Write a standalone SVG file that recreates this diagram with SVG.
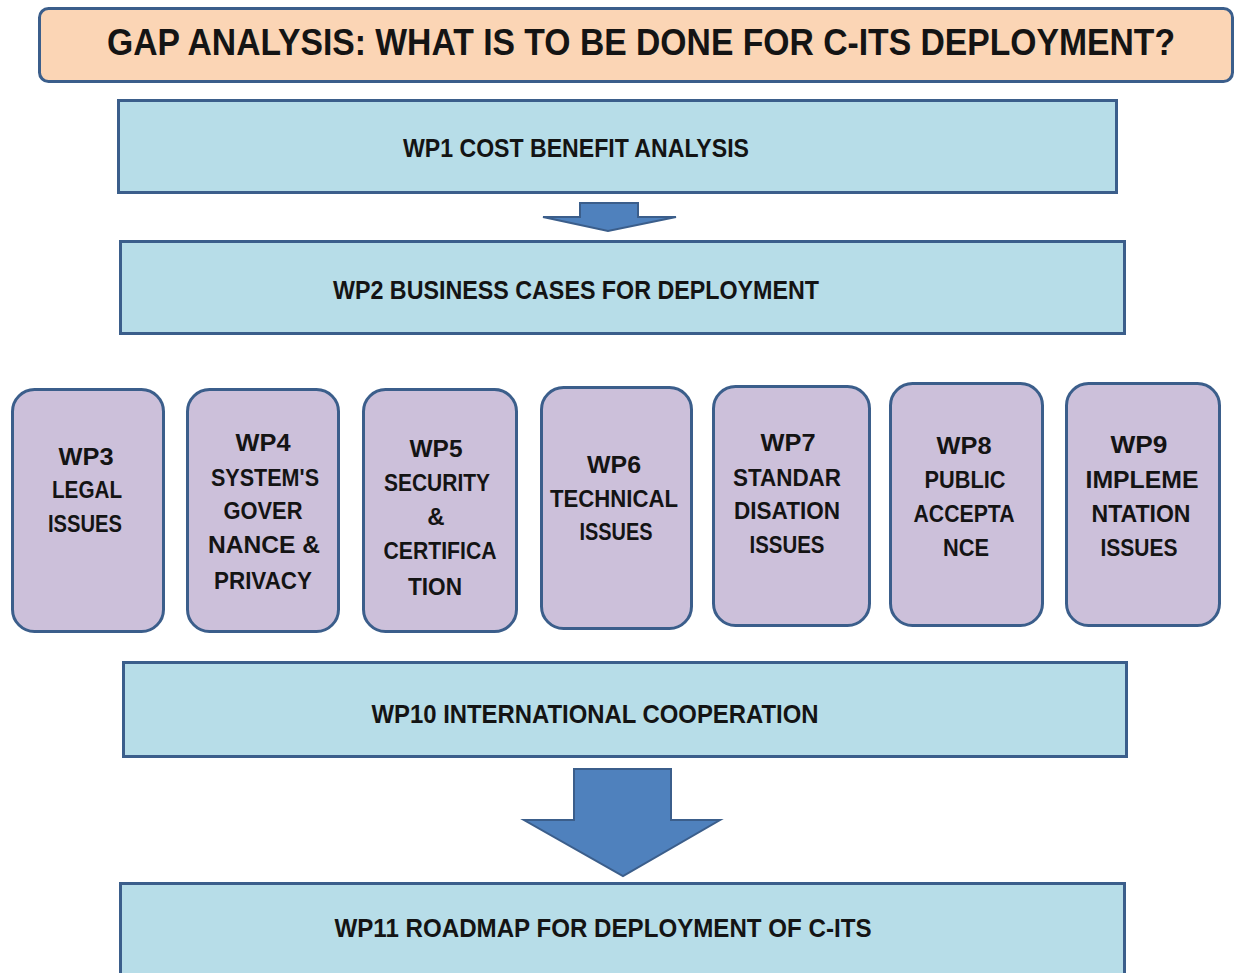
<svg xmlns="http://www.w3.org/2000/svg" width="1236" height="973" viewBox="0 0 1236 973">
<style>
.title{fill:#FBD5B5;stroke:#3B5E8B;stroke-width:3}
.wide{fill:#B7DDE8;stroke:#3B5E8B;stroke-width:3}
.wp{fill:#CCC0DA;stroke:#3B5E8B;stroke-width:3}
.arrow{fill:#4F81BD;stroke:#3B5E8B;stroke-width:2;stroke-linejoin:miter}
text{font-family:"Liberation Sans",Arial,sans-serif;font-weight:bold;fill:#141414;text-anchor:middle}
.t0{font-size:33px}
.t1{font-size:25px}
.t2{font-size:24px}
</style>
<g id="title">
<rect class="title" x="39.5" y="8.5" width="1193" height="73" rx="9"/>
<text class="t0" transform="translate(641,55) scale(1,1.12)" x="0" y="0" textLength="1068" lengthAdjust="spacingAndGlyphs">GAP ANALYSIS: WHAT IS TO BE DONE FOR C-ITS DEPLOYMENT?</text>
</g>
<g id="wp1">
<rect class="wide" x="118.5" y="100.5" width="998" height="92"/>
<text class="t1" x="576" y="157" textLength="346" lengthAdjust="spacingAndGlyphs">WP1 COST BENEFIT ANALYSIS</text>
</g>
<g id="wp2">
<rect class="wide" x="120.5" y="241.5" width="1004" height="92"/>
<text class="t1" x="576" y="299" textLength="486" lengthAdjust="spacingAndGlyphs">WP2 BUSINESS CASES FOR DEPLOYMENT</text>
</g>
<g id="wp3">
<rect class="wp" x="12.5" y="389.5" width="151" height="242" rx="22"/>
<text class="t2" x="86" y="465" textLength="55" lengthAdjust="spacingAndGlyphs">WP3</text>
<text class="t2" x="87" y="498" textLength="70" lengthAdjust="spacingAndGlyphs">LEGAL</text>
<text class="t2" x="85" y="532" textLength="74" lengthAdjust="spacingAndGlyphs">ISSUES</text>
</g>
<g id="wp4">
<rect class="wp" x="187.5" y="389.5" width="151" height="242" rx="22"/>
<text class="t2" x="263" y="451" textLength="55" lengthAdjust="spacingAndGlyphs">WP4</text>
<text class="t2" x="265" y="486" textLength="108" lengthAdjust="spacingAndGlyphs">SYSTEM'S</text>
<text class="t2" x="263" y="519" textLength="79" lengthAdjust="spacingAndGlyphs">GOVER</text>
<text class="t2" x="264" y="553" textLength="112" lengthAdjust="spacingAndGlyphs">NANCE &amp;</text>
<text class="t2" x="263" y="589" textLength="98" lengthAdjust="spacingAndGlyphs">PRIVACY</text>
</g>
<g id="wp5">
<rect class="wp" x="363.5" y="389.5" width="153" height="242" rx="22"/>
<text class="t2" x="436" y="457" textLength="53" lengthAdjust="spacingAndGlyphs">WP5</text>
<text class="t2" x="437" y="491" textLength="106" lengthAdjust="spacingAndGlyphs">SECURITY</text>
<text class="t2" x="436" y="525">&amp;</text>
<text class="t2" x="440" y="559" textLength="113" lengthAdjust="spacingAndGlyphs">CERTIFICA</text>
<text class="t2" x="435" y="595" textLength="54" lengthAdjust="spacingAndGlyphs">TION</text>
</g>
<g id="wp6">
<rect class="wp" x="541.5" y="387.5" width="150" height="241" rx="22"/>
<text class="t2" x="614" y="473" textLength="54" lengthAdjust="spacingAndGlyphs">WP6</text>
<text class="t2" x="614" y="507" textLength="128" lengthAdjust="spacingAndGlyphs">TECHNICAL</text>
<text class="t2" x="616" y="540" textLength="73" lengthAdjust="spacingAndGlyphs">ISSUES</text>
</g>
<g id="wp7">
<rect class="wp" x="713.5" y="386.5" width="156" height="239" rx="22"/>
<text class="t2" x="788" y="451" textLength="55" lengthAdjust="spacingAndGlyphs">WP7</text>
<text class="t2" x="787" y="486" textLength="108" lengthAdjust="spacingAndGlyphs">STANDAR</text>
<text class="t2" x="787" y="519" textLength="106" lengthAdjust="spacingAndGlyphs">DISATION</text>
<text class="t2" x="787" y="553" textLength="75" lengthAdjust="spacingAndGlyphs">ISSUES</text>
</g>
<g id="wp8">
<rect class="wp" x="890.5" y="383.5" width="152" height="242" rx="22"/>
<text class="t2" x="964" y="454" textLength="55" lengthAdjust="spacingAndGlyphs">WP8</text>
<text class="t2" x="965" y="488" textLength="81" lengthAdjust="spacingAndGlyphs">PUBLIC</text>
<text class="t2" x="964" y="522" textLength="101" lengthAdjust="spacingAndGlyphs">ACCEPTA</text>
<text class="t2" x="966" y="556" textLength="46" lengthAdjust="spacingAndGlyphs">NCE</text>
</g>
<g id="wp9">
<rect class="wp" x="1066.5" y="383.5" width="153" height="242" rx="22"/>
<text class="t2" x="1139" y="453" textLength="57" lengthAdjust="spacingAndGlyphs">WP9</text>
<text class="t2" x="1142" y="488" textLength="113" lengthAdjust="spacingAndGlyphs">IMPLEME</text>
<text class="t2" x="1141" y="522" textLength="99" lengthAdjust="spacingAndGlyphs">NTATION</text>
<text class="t2" x="1139" y="556" textLength="77" lengthAdjust="spacingAndGlyphs">ISSUES</text>
</g>
<g id="wp10">
<rect class="wide" x="123.5" y="662.5" width="1003" height="94"/>
<text class="t1" x="595" y="723" textLength="447" lengthAdjust="spacingAndGlyphs">WP10 INTERNATIONAL COOPERATION</text>
</g>
<g id="wp11">
<rect class="wide" x="120.5" y="883.5" width="1004" height="100"/>
<text class="t1" x="603" y="937" textLength="537" lengthAdjust="spacingAndGlyphs">WP11 ROADMAP FOR DEPLOYMENT OF C-ITS</text>
</g>
<g id="connectors">
<polygon class="arrow" points="580,203 638,203 638,217 676,217 608,231 543,217 580,217"/>
<polygon class="arrow" points="574,769 671,769 671,820 720,820 623,876 524,820 574,820"/>
</g>
</svg>
